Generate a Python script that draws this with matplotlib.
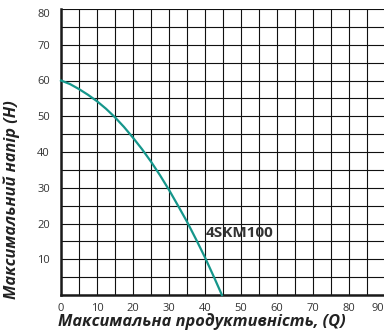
import matplotlib
matplotlib.use("Agg")
import matplotlib.pyplot as plt
from matplotlib.ticker import MultipleLocator
from matplotlib.transforms import ScaledTranslation

# Pump curve 4SKM100
flow_q = [0, 2.5, 5, 7.5, 10, 12.5, 15, 17.5, 20, 22.5, 25, 27.5, 30,
          32.5, 35, 37.5, 40, 42.5, 44.7]
head_h = [60, 59, 57.6, 56, 54.2, 52.1, 49.7, 47, 44, 40.8, 37.3, 33.5, 29.4,
          25, 20.5, 15.6, 10.5, 5, 0]
curve_name = "4SKM100"
x_ticks = [0, 10, 20, 30, 40, 50, 60, 70, 80, 90]
y_ticks = [10, 20, 30, 40, 50, 60, 70, 80]

plt.rcParams["font.family"] = ["Open Sans", "DejaVu Sans"]

fig = plt.figure(figsize=(3.84, 3.33), dpi=100)
ax = fig.add_axes([61 / 384, 38 / 333, 324 / 384, 286 / 333])

ax.set_xlim(0, 90)
ax.set_ylim(0, 80)
ax.xaxis.set_minor_locator(MultipleLocator(5))
ax.yaxis.set_minor_locator(MultipleLocator(5))
ax.set_xticks(x_ticks)
ax.set_yticks(y_ticks)
ax.grid(True, which="both", color="#111111", lw=0.8)
ax.set_axisbelow(True)

ax.plot(flow_q, head_h, color="#15968b", lw=1.6, clip_on=False, zorder=3)
ax.text(40.2, 17.4, curve_name, fontsize=11, fontweight="bold", color="#333333",
        va="center", ha="left", zorder=4)

for s in ["top", "right"]:
    ax.spines[s].set_visible(False)
for s in ["left", "bottom"]:
    ax.spines[s].set_linewidth(1.8)
    ax.spines[s].set_color("#1a1a1a")

ax.tick_params(which="both", length=0, labelsize=8, labelcolor="#333333")
ax.tick_params(axis="y", pad=8)
ax.tick_params(axis="x", pad=6)

# last x label sits at the right edge, pull it in a bit like the reference
fig.canvas.draw()
xl = ax.get_xticklabels()[-1]
xl.set_transform(xl.get_transform() + ScaledTranslation(-7 / 100, 0, fig.dpi_scale_trans))
yl = ax.get_yticklabels()[-1]
yl.set_transform(yl.get_transform() + ScaledTranslation(0, -4 / 100, fig.dpi_scale_trans))

fig.text(202 / 384, 1 - 322 / 333, "Максимальна продуктивність, (Q)",
         ha="center", va="center", fontsize=11.8, fontweight="bold",
         fontstyle="italic", color="#222222")
fig.text(12 / 384, 1 - 200 / 333, "Максимальний напір (H)", ha="center",
         va="center", rotation=90, fontsize=11.8, fontweight="bold",
         fontstyle="italic", color="#222222")

fig.savefig("out.png", dpi=100)
